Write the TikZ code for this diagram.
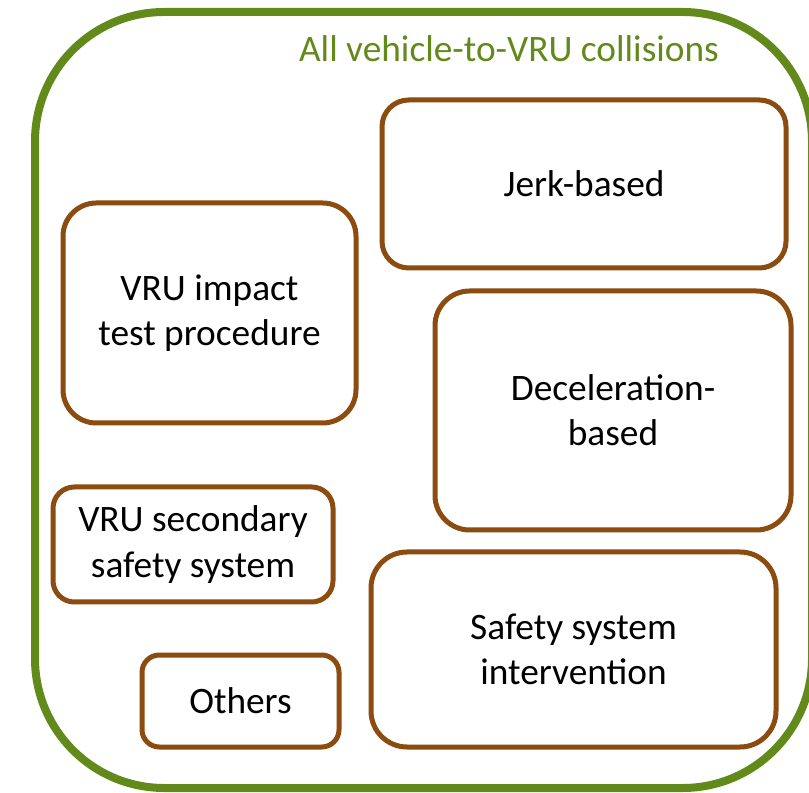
\documentclass[tikz,border=0pt]{standalone}
\usepackage{fontspec}
\setmainfont{Carlito}
\usepackage{tikz}
\usetikzlibrary{positioning}
\definecolor{vrugreen}{RGB}{98,138,26}
\definecolor{vrubrown}{RGB}{140,75,15}
\tikzset{
    catbox/.style={draw=vrubrown, line width=3.75pt, align=center, inner sep=0pt,
        font=\fontsize{28}{34}\selectfont},
    allbox/.style={draw=vrugreen, line width=6pt, rounded corners=97pt, inner sep=0pt}
}

\begin{document}
\begin{tikzpicture}[x=0.75pt, y=0.75pt]
    \useasboundingbox (0, 0) rectangle (809, 792);
    \node[allbox, minimum width=582.75pt, minimum height=582pt] (all) at (423.5, 392) {};
    \node[anchor=base, text=vrugreen, font=\fontsize{28}{34}\selectfont] (title) at (509, 730) {All vehicle-to-VRU collisions};
    \node[catbox, rounded corners=20pt, minimum width=303pt, minimum height=126pt] (jerk) at (584, 608) {Jerk-based};
    \node[catbox, rounded corners=25pt, minimum width=219.75pt, minimum height=165pt] (impact) at (209.5, 479) {VRU impact\\test procedure};
    \node[catbox, rounded corners=26pt, minimum width=267pt, minimum height=179.25pt] (decel) at (613, 381.5) {Deceleration-\\based};
    \node[catbox, rounded corners=16pt, minimum width=210pt, minimum height=86.25pt] (secondary) at (193, 247.5) {VRU secondary\\safety system};
    \node[catbox, rounded corners=27pt, minimum width=303.75pt, minimum height=146.25pt] (intervention) at (573.5, 142.5) {Safety system\\intervention};
    \node[catbox, rounded corners=13pt, minimum width=147.75pt, minimum height=69pt] (others) at (240.5, 91) {Others};
\end{tikzpicture}
\end{document}
